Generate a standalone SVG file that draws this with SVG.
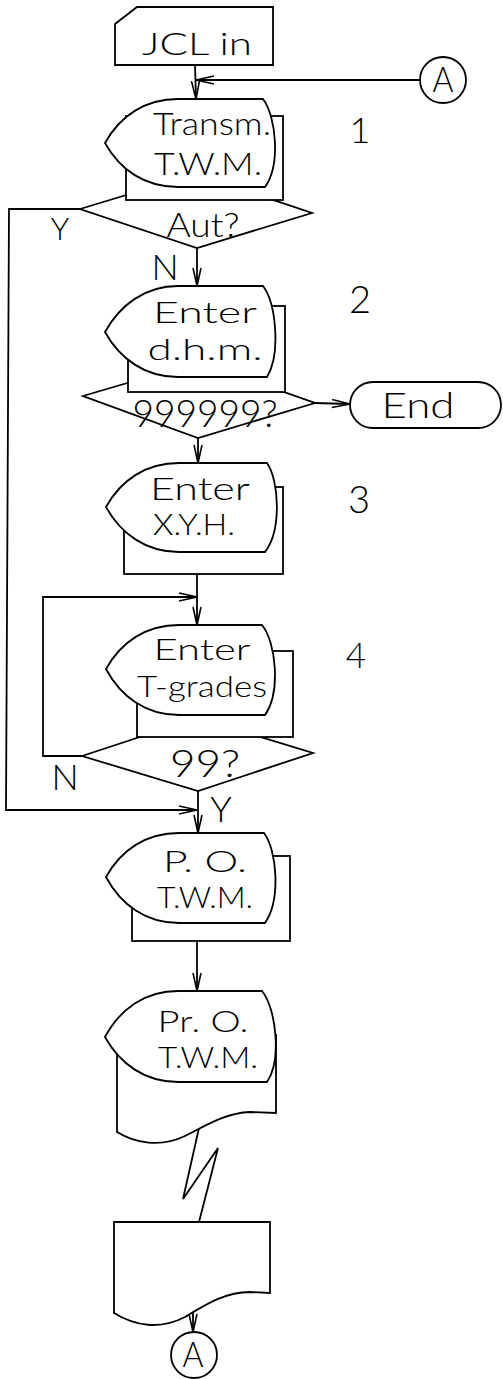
<svg xmlns="http://www.w3.org/2000/svg" width="503" height="1379" viewBox="0 0 503 1379">
<style>
.s{fill:#fff;stroke:#000;stroke-width:1.8;stroke-linejoin:miter}
.c{fill:none;stroke:#000;stroke-width:1.8}
.t{font-family:Lato,"Liberation Sans",sans-serif;font-weight:300;fill:#000;text-anchor:middle}
</style>
<defs>
<marker id="arr" markerUnits="userSpaceOnUse" markerWidth="24" markerHeight="14" viewBox="-20 -7 22 14" refX="0" refY="0" orient="auto">
<path d="M-18,-4 L0,0 L-18,4" fill="none" stroke="#000" stroke-width="1.6"/>
</marker>
</defs>
<rect width="503" height="1379" fill="#fff"/>
<g id="connectors">
<path class="c" d="M195,65 L196,99" marker-end="url(#arr)"/>
<path class="c" d="M420,80 L196,80" marker-end="url(#arr)"/>
<path class="c" d="M80,209 L9,209 L6,810 L197,810" marker-end="url(#arr)"/>
<path class="c" d="M197,248 L197,286" marker-end="url(#arr)"/>
<path class="c" d="M315,403 L350,404" marker-end="url(#arr)"/>
<path class="c" d="M198,438 L198,463" marker-end="url(#arr)"/>
<path class="c" d="M197,574 L197,625" marker-end="url(#arr)"/>
<path class="c" d="M82,756 L43,756 L43,597 L197,597" marker-end="url(#arr)"/>
<path class="c" d="M198,791 L198,833" marker-end="url(#arr)"/>
<path class="c" d="M197,941 L197,991" marker-end="url(#arr)"/>
<path class="c" d="M199,1128 L183,1199 L218,1148 L199,1222"/>
<path class="c" d="M193,1313 L193,1332" marker-end="url(#arr)"/>
</g>
<g id="jcl">
<path class="s" d="M115,24 L137,7 L273,7 L273,65 L115,65 Z"/>
<text class="t" x="197" y="55" font-size="32" textLength="110" lengthAdjust="spacingAndGlyphs">JCL in</text>
</g>
<g id="conn-a-top">
<circle class="s" cx="443" cy="80" r="23"/>
<text class="t" x="443" y="92" font-size="35" textLength="21" lengthAdjust="spacingAndGlyphs">A</text>
</g>
<g id="step1">
<polygon class="s" points="80,209 196,174 312,213 197,248"/>
<rect class="s" x="126" y="116" width="157" height="84"/>
<path class="s" d="M105,143 C120,116 145,99 178,99 L263,99 C276,116 281,165 265,187 L178,187 C145,187 120,170 105,143 Z"/>
<text class="t" x="212" y="135" font-size="32" textLength="118" lengthAdjust="spacingAndGlyphs">Transm.</text>
<text class="t" x="208" y="175" font-size="32" textLength="108" lengthAdjust="spacingAndGlyphs">T.W.M.</text>
<text class="t" x="203" y="237" font-size="33" textLength="73" lengthAdjust="spacingAndGlyphs">Aut?</text>
<text class="t" x="360" y="143" font-size="36">1</text>
<text class="t" x="60" y="240" font-size="31">Y</text>
<text class="t" x="165" y="280" font-size="36">N</text>
</g>
<g id="step2">
<polygon class="s" points="83,396 199,362 315,403 198,438"/>
<rect class="s" x="128" y="306" width="157" height="86"/>
<path class="s" d="M105,332 C120,305 145,286 178,286 L263,286 C276,303 281,354 267,377 L178,377 C145,377 120,359 105,332 Z"/>
<text class="t" x="205" y="323" font-size="30" textLength="104" lengthAdjust="spacingAndGlyphs">Enter</text>
<text class="t" x="205" y="360" font-size="30" textLength="115" lengthAdjust="spacingAndGlyphs">d.h.m.</text>
<text class="t" x="205" y="427" font-size="38" textLength="145" lengthAdjust="spacingAndGlyphs">999999?</text>
<text class="t" x="360" y="313" font-size="38">2</text>
</g>
<g id="end">
<rect class="s" x="350" y="382" width="151" height="46" rx="23" ry="23"/>
<text class="t" x="418" y="418" font-size="35" textLength="73" lengthAdjust="spacingAndGlyphs">End</text>
</g>
<g id="step3">
<rect class="s" x="124" y="487" width="159" height="87"/>
<path class="s" d="M106,507 C121,480 146,463 179,463 L267,463 C279,480 282,530 265,552 L179,552 C146,552 121,534 106,507 Z"/>
<text class="t" x="200" y="500" font-size="32" textLength="100" lengthAdjust="spacingAndGlyphs">Enter</text>
<text class="t" x="194" y="535" font-size="29" textLength="82" lengthAdjust="spacingAndGlyphs">X.Y.H.</text>
<text class="t" x="359" y="513" font-size="38">3</text>
</g>
<g id="step4">
<polygon class="s" points="82,756 198,718 313,753 198,791"/>
<rect class="s" x="137" y="651" width="156" height="86"/>
<path class="s" d="M106,669 C121,642 146,625 179,625 L262,625 C276,642 281,692 265,715 L179,715 C146,715 121,697 106,669 Z"/>
<text class="t" x="202" y="660" font-size="30" textLength="97" lengthAdjust="spacingAndGlyphs">Enter</text>
<text class="t" x="202" y="697" font-size="30" textLength="130" lengthAdjust="spacingAndGlyphs">T-grades</text>
<text class="t" x="205" y="777" font-size="38" textLength="70" lengthAdjust="spacingAndGlyphs">99?</text>
<text class="t" x="356" y="668" font-size="35">4</text>
<text class="t" x="65" y="790" font-size="36">N</text>
<text class="t" x="221" y="822" font-size="36">Y</text>
</g>
<g id="po">
<rect class="s" x="132" y="856" width="158" height="85"/>
<path class="s" d="M106,877 C121,850 146,833 179,833 L264,833 C277,850 281,900 265,923 L179,923 C146,923 121,905 106,877 Z"/>
<text class="t" x="205" y="872" font-size="30" textLength="84" lengthAdjust="spacingAndGlyphs">P. O.</text>
<text class="t" x="205" y="908" font-size="30" textLength="96" lengthAdjust="spacingAndGlyphs">T.W.M.</text>
</g>
<g id="pro">
<path class="s" d="M117,1035 L276,1035 L276,1113 L250,1112 C225,1113 205,1126 185,1136 C160,1148 135,1143 117,1132 Z"/>
<path class="s" d="M105,1037 C120,1009 145,991 178,991 L262,991 C276,1008 282,1060 267,1082 L178,1082 C145,1082 120,1064 105,1037 Z"/>
<text class="t" x="203" y="1032" font-size="30" textLength="91" lengthAdjust="spacingAndGlyphs">Pr. O.</text>
<text class="t" x="208" y="1068" font-size="30" textLength="100" lengthAdjust="spacingAndGlyphs">T.W.M.</text>
</g>
<g id="document">
<path class="s" d="M114,1222 L270,1222 L270,1293 L250,1292 C225,1292 205,1305 185,1317 C160,1330 135,1326 114,1313 Z"/>
</g>
<g id="conn-a-bottom">
<circle class="s" cx="194" cy="1355" r="23"/>
<text class="t" x="193" y="1367" font-size="35" textLength="21" lengthAdjust="spacingAndGlyphs">A</text>
</g>
</svg>
